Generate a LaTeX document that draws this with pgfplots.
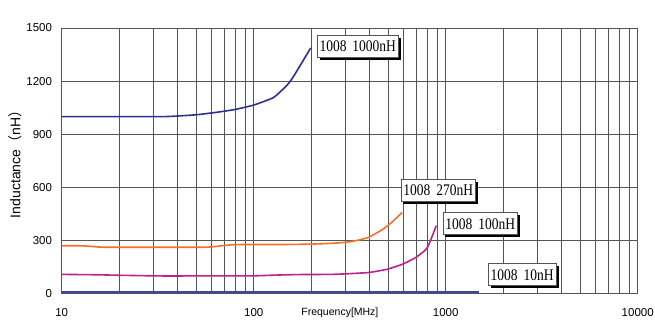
\documentclass[border=0pt]{standalone}
\usepackage{graphicx}
\usepackage{fontspec}
\setmainfont{Liberation Sans}
\newfontfamily\serifbox{Liberation Serif}
\newfontfamily\cjk{Noto Sans CJK SC}
\usepackage{pgfplots}
\pgfplotsset{compat=1.18}
\usetikzlibrary{shadows}
\definecolor{cA}{RGB}{46,49,146}
\definecolor{cB}{RGB}{243,111,43}
\definecolor{cC}{RGB}{190,34,140}
\definecolor{cD}{RGB}{58,70,160}
\definecolor{gridc}{RGB}{85,85,85}
\tikzset{lbl/.style={draw=gridc, line width=0.5bp, fill=white, anchor=west,
  inner xsep=2.5bp, inner ysep=0pt, minimum height=22bp,
  drop shadow={shadow xshift=2.5bp, shadow yshift=-2.5bp, fill=black, opacity=1},
  font=\serifbox\fontsize{13.5bp}{15bp}\selectfont}}
\newcommand{\lb}[2]{\scalebox{1}[1.2]{#1\hspace{6bp}#2}}
\begin{document}
\begin{tikzpicture}
\path[use as bounding box] (-61.7bp,-28bp) rectangle (593.3bp,293.7bp);
\begin{axis}[
  scale only axis,
  width=576bp, height=265.7bp,
  xmode=log, xmin=10, xmax=10000,
  ymin=0, ymax=1500,
  ytick={0,300,600,900,1200,1500},
  xtick={10,100,1000,10000},
  xticklabels={10,100,1000,10000},
  minor xtick={20,30,40,50,60,70,80,90,200,300,400,500,600,700,800,900,2000,3000,4000,5000,6000,7000,8000,9000},
  log basis x=10,
  xmajorgrids, xminorgrids, ymajorgrids,
  grid style={draw=gridc, line width=0.55bp},
  minor grid style={draw=gridc, line width=0.55bp},
  major tick length=0pt, minor tick length=0pt,
  axis line style={draw=gridc, line width=0.6bp},
  /pgf/number format/assume math mode=true,
  ticklabel style={font=\fontsize{11.5bp}{13bp}\selectfont, inner sep=0pt},
  yticklabel style={anchor=east, xshift=-9.5bp},
  xticklabel style={anchor=center, yshift=-19bp},
  yticklabel={\pgfmathprintnumber[fixed,1000 sep={}]{\tick}},
  xlabel={Frequency[MHz]},
  xlabel style={at={(axis description cs:0.483,-0.0715)}, anchor=center, font=\fontsize{10.5bp}{12bp}\selectfont},
  ylabel={Inductance{\cjk （}nH{\cjk ）}},
  ylabel style={at={(axis description cs:-0.0811,0.5)}, anchor=center, font=\fontsize{14bp}{15bp}\selectfont},
  clip=false,
]
\addplot[cA, line width=1.6bp, smooth, tension=0.3] coordinates {
(10,1000) (20,1000) (35,1000) (50,1010) (65,1025) (80,1040) (100,1065) (127,1108) (150,1180) (162,1230) (198,1387)};
\addplot[cB, line width=1.6bp, smooth, tension=0.3] coordinates {
(10,271) (13,270) (16,263) (20,262) (30,262) (40,262) (58,263) (70,272) (80,277) (100,278) (150,278) (200,280) (250,284) (300,290) (350,302) (400,320) (473,365) (530,408) (593,459)};
\addplot[cC, line width=1.6bp, smooth, tension=0.3] coordinates {
(10,109) (15,107) (20,104) (35,100) (60,101) (100,101) (130,105) (170,108) (250,109) (300,112) (400,120) (500,139) (600,168) (700,205) (800,258) (893,384)};
\addplot[cD, line width=1.6bp] coordinates {
(10,10) (100,10) (1000,10) (1496,10)};
\node[lbl] at (axis cs:213,1397) {\lb{1008}{1000nH}};
\node[lbl] at (axis cs:583,582) {\lb{1008}{270nH}};
\node[lbl] at (axis cs:964,395) {\lb{1008}{100nH}};
\node[lbl] at (axis cs:1656,107) {\lb{1008}{10nH}};
\end{axis}
\end{tikzpicture}
\end{document}
